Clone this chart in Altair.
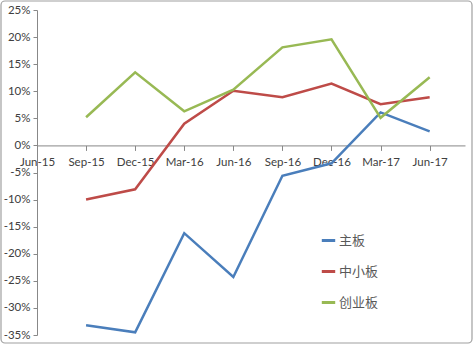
import altair as alt
import pandas as pd

quarters = ["Jun-15", "Sep-15", "Dec-15", "Mar-16", "Jun-16", "Sep-16", "Dec-16", "Mar-17", "Jun-17"]
series_names = ["主板", "中小板", "创业板"]
main_board = [None, -33.2, -34.5, -16.2, -24.3, -5.6, -3.3, 6.1, 2.6]
sme_board = [None, -10.0, -8.1, 4.0, 10.1, 8.9, 11.4, 7.6, 8.9]
chinext = [None, 5.2, 13.5, 6.3, 10.3, 18.1, 19.6, 5.1, 12.6]
colors = ["#4A7EBB", "#BE4B48", "#98B954"]

rows = []
for name, vals in zip(series_names, [main_board, sme_board, chinext]):
    for i, (q, v) in enumerate(zip(quarters, vals)):
        if v is not None:
            rows.append({"idx": i, "quarter": q, "series": name, "value": v})
df = pd.DataFrame(rows)

W, H = 428, 325
label_expr = "[" + ",".join("'%s'" % q for q in quarters) + "][datum.value]"

font = "Lato"
base = alt.Chart(df)

lines = base.mark_line(strokeWidth=2.5, clip=False).encode(
    x=alt.X("idx:Q",
            scale=alt.Scale(domain=[0, 8.72], nice=False, zero=False),
            axis=alt.Axis(title=None, values=list(range(len(quarters))),
                          labelExpr=label_expr, grid=False,
                          labelOverlap=False, labelFlush=False, labelBound=False,
                          domainColor="#888888", tickColor="#888888",
                          tickSize=5, labelFont=font, labelFontSize=11.5,
                          labelColor="#404040", labelPadding=6,
                          offset=-H * 35 / 60)),
    y=alt.Y("value:Q",
            scale=alt.Scale(domain=[-35, 25], nice=False),
            axis=alt.Axis(title=None, values=list(range(-35, 30, 5)),
                          labelExpr="datum.value + '%'", grid=False,
                          labelOverlap=False, labelFlush=False, labelBound=False,
                          domainColor="#888888", tickColor="#888888",
                          tickSize=4, labelFont=font, labelFontSize=11.5,
                          labelColor="#404040", labelPadding=3)),
    color=alt.Color("series:N",
                    scale=alt.Scale(domain=series_names, range=colors),
                    sort=series_names,
                    legend=alt.Legend(title=None, orient="none",
                                      legendX=283, legendY=222,
                                      symbolType="stroke", symbolSize=180,
                                      symbolStrokeWidth=3,
                                      labelFont="Noto Sans CJK SC",
                                      labelFontSize=13, labelColor="#595959",
                                      labelOffset=2, rowPadding=15)),
    order="idx:Q",
)

frame = alt.Chart(pd.DataFrame({"a": [0]})).mark_rect(
    fill=None, stroke="#A0A0A0", strokeWidth=1.2, cornerRadius=4, clip=False
).encode(
    x=alt.value(-36), x2=alt.value(W + 7),
    y=alt.value(-9), y2=alt.value(H + 8),
)

chart = alt.layer(lines, frame).properties(
    width=W, height=H,
    autosize=alt.AutoSizeParams(type="none"),
    padding={"left": 37, "top": 10, "right": 8, "bottom": 9},
    background="white",
).configure_view(stroke=None)

chart.save("out.html", embed_options={"renderer": "svg", "actions": False})
